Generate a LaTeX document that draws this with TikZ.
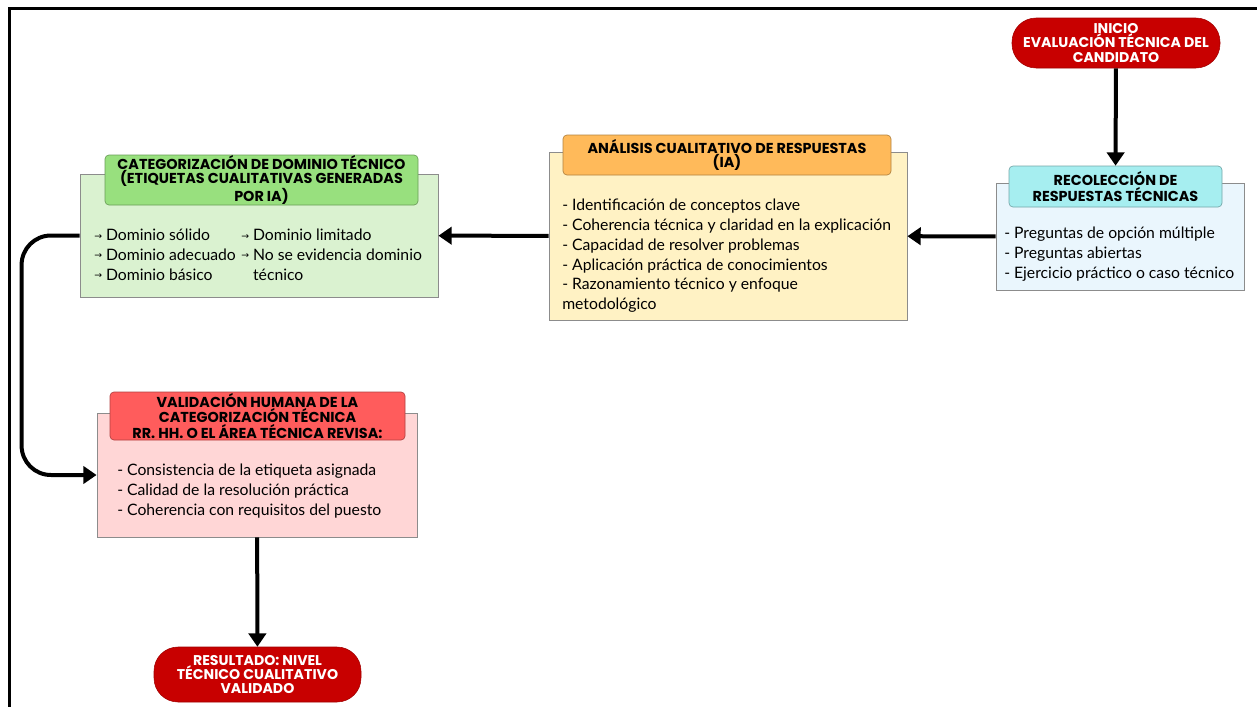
\documentclass[tikz,border=0pt]{standalone}
\usepackage{fontspec}
\setmainfont{Lato}
\newfontfamily\titulo{Poppins}
\newfontfamily\simbolos{DejaVu Sans}
\usepackage{tikz}
\usetikzlibrary{arrows.meta}
\definecolor{rojoinicio}{HTML}{C80000}
\definecolor{cyanhead}{HTML}{A6EEF0}
\definecolor{azulbox}{HTML}{EAF6FD}
\definecolor{naranjahead}{HTML}{FFBA5A}
\definecolor{amarillobox}{HTML}{FFF2C4}
\definecolor{verdehead}{HTML}{98E07E}
\definecolor{verdebox}{HTML}{DAF2D0}
\definecolor{rojohead}{HTML}{FF5C5C}
\definecolor{rosabox}{HTML}{FFD6D6}
\newcommand{\flechita}{\raisebox{1.2pt}{\simbolos\scriptsize →}\hspace{3pt}}
\tikzset{
pildora/.style={fill=rojoinicio, draw=rojoinicio!80!black, line width=0.4pt, rounded corners=18pt,
  text=white, font=\titulo\bfseries\fontsize{10.6}{10.6}\selectfont, align=center, inner sep=0pt},
caja/.style={draw=black!45, line width=0.6pt, inner sep=0pt},
cabecera/.style={rounded corners=3pt, line width=0.5pt, inner sep=0pt, align=center,
  font=\titulo\bfseries\fontsize{10.8}{10.5}\selectfont},
lista/.style={anchor=north west, inner sep=0pt, align=left, font=\fontsize{11.8}{14.8}\selectfont},
flecha/.style={line width=3pt, -{Triangle[length=10pt, width=13pt]}}}

\begin{document}
\begin{tikzpicture}[x=0.75pt,y=0.75pt,yscale=-1,xscale=1]
\useasboundingbox (0,0) rectangle (1257,707);
%marco
\draw[line width=2.25pt] (9,707) -- (9,8) -- (1257,8);

%Inicio
\node[pildora, minimum width=156pt, minimum height=37.5pt] (inicio) at (1116,43) {INICIO\\EVALUACIÓN TÉCNICA DEL\\CANDIDATO};

%Recoleccion de respuestas
\node[caja, fill=azulbox, minimum width=186pt, minimum height=80.25pt] (recoleccion) at (1120,236.5) {};
\node[cabecera, fill=cyanhead, draw=cyanhead!70!black, minimum width=159.75pt, minimum height=30.75pt] (recoleccion_h) at (1115.5,186.5) {RECOLECCIÓN DE\\RESPUESTAS TÉCNICAS};
\node[lista] (recoleccion_t) at (1004,227) {- Preguntas de opción múltiple\\- Preguntas abiertas\\- Ejercicio práctico o caso técnico};

%Analisis cualitativo
\node[caja, fill=amarillobox, minimum width=268.5pt, minimum height=126pt] (analisis) at (728,236) {};
\node[cabecera, fill=naranjahead, draw=naranjahead!70!black, minimum width=246pt, minimum height=30pt] (analisis_h) at (727,155) {ANÁLISIS CUALITATIVO DE RESPUESTAS\\(IA)};
\node[lista] (analisis_t) at (562,199) {- Identificación de conceptos clave\\- Coherencia técnica y claridad en la explicación\\- Capacidad de resolver problemas\\- Aplicación práctica de conocimientos\\- Razonamiento técnico y enfoque\\metodológico};

%Categorizacion
\node[caja, fill=verdebox, minimum width=268.5pt, minimum height=92.25pt] (categoria) at (259,235.5) {};
\node[cabecera, fill=verdehead, draw=verdehead!70!black, minimum width=234.75pt, minimum height=37.5pt] (categoria_h) at (261.5,180) {CATEGORIZACIÓN DE DOMINIO TÉCNICO\\(ETIQUETAS CUALITATIVAS GENERADAS\\POR IA)};
\node[lista] (categoria_a) at (94,229) {\flechita Dominio sólido\\\flechita Dominio adecuado\\\flechita Dominio básico};
\node[lista] (categoria_b) at (241,229) {\flechita Dominio limitado\\\flechita No se evidencia dominio\\\phantom{\flechita}técnico};

%Validacion humana
\node[caja, fill=rosabox, minimum width=240pt, minimum height=93pt] (validacion) at (257,475) {};
\node[cabecera, fill=rojohead, draw=rojohead!70!black, minimum width=221.25pt, minimum height=36pt] (validacion_h) at (257.5,416) {VALIDACIÓN HUMANA DE LA\\CATEGORIZACIÓN TÉCNICA\\RR. HH. O EL ÁREA TÉCNICA REVISA:};
\node[lista] (validacion_t) at (117,464) {- Consistencia de la etiqueta asignada\\- Calidad de la resolución práctica\\- Coherencia con requisitos del puesto};

%Resultado
\node[pildora, minimum width=155.25pt, minimum height=41.25pt] (resultado) at (257.5,674.5) {RESULTADO: NIVEL\\TÉCNICO CUALITATIVO\\VALIDADO};

%conectores
\draw[flecha] (inicio) -- (recoleccion_h);
\draw[flecha] (recoleccion) -- (analisis);
\draw[flecha] (analisis) -- (categoria);
\draw[flecha, rounded corners=22pt] (categoria.west) -- ++(-58,0) |- (validacion.west);
\draw[flecha] (validacion) -- (resultado);

\end{tikzpicture}
\end{document}
